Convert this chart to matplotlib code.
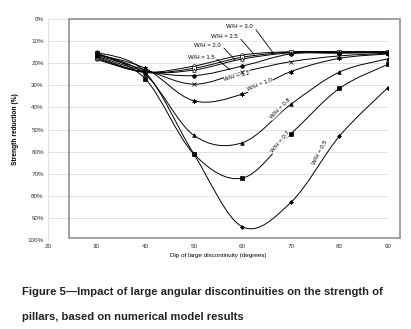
import numpy as np
import matplotlib
matplotlib.use("Agg")
import matplotlib.pyplot as plt
from matplotlib.path import Path
from matplotlib.patches import PathPatch, Rectangle
from matplotlib import font_manager

plt.rcParams['font.family'] = ['Liberation Sans', 'DejaVu Sans']

dip = [30, 40, 50, 60, 70, 80, 90]
wh_labels = ["3.0", "2.5", "2.0", "1.5", "1.2", "1.0", "0.8", "0.7", "0.5"]
red_30 = [18.3, 24.0, 21.3, 16.3, 14.8, 14.8, 14.8]
red_25 = [17.8, 24.2, 22.3, 17.3, 15.0, 14.8, 14.9]
red_20 = [17.3, 24.0, 23.1, 18.1, 15.3, 15.2, 15.0]
red_15 = [16.8, 23.5, 25.6, 21.3, 15.8, 15.5, 15.2]
red_12 = [16.3, 23.0, 29.5, 24.0, 19.3, 16.7, 15.5]
red_10 = [16.0, 22.3, 37.0, 34.0, 23.8, 17.8, 15.8]
red_08 = [15.7, 25.0, 52.6, 56.0, 38.6, 24.0, 18.0]
red_07 = [15.3, 27.0, 61.0, 72.0, 52.0, 31.4, 20.5]
red_05 = [15.0, 24.0, 61.0, 94.0, 83.0, 53.0, 31.0]
series = [red_30, red_25, red_20, red_15, red_12, red_10, red_08, red_07, red_05]
markers = ['o', 's', '^', 'o', 'x', (6, 2, 0), '^', 's', 'D']
mfcs = ['white', 'white', 'white', 'black', 'black', 'black', 'black', 'black', 'black']
msizes = [2.6, 2.5, 2.6, 2.6, 2.8, 3.2, 2.6, 2.7, 2.0]

fig = plt.figure(figsize=(4.11, 3.29), dpi=100)
ax = fig.add_axes([48/411, 1-240/329, 340/411, 221/329])
ax.set_xlim(20, 90)
ax.set_ylim(100, 0)

def smooth_path(x, y):
    x = np.asarray(x, float); y = np.asarray(y, float)
    P = np.column_stack([x, y])
    n = len(P)
    verts = [P[0]]
    codes = [Path.MOVETO]
    for i in range(n-1):
        p0 = P[i-1] if i > 0 else P[i]
        p3 = P[i+2] if i+2 < n else P[i+1]
        c1 = P[i] + (P[i+1]-p0)/6.0
        c2 = P[i+1] - (p3-P[i])/6.0
        verts += [c1, c2, P[i+1]]
        codes += [Path.CURVE4]*3
    return Path(verts, codes)

for vals, m, fc, ms in zip(series, markers, mfcs, msizes):
    ax.add_patch(PathPatch(smooth_path(dip, vals), fill=False, lw=0.7, ec='black', zorder=3))
    ax.plot(dip, vals, ls='none', marker=m, ms=ms, mfc=fc, mec='black', mew=0.5, zorder=4)

ax.set_yticks(np.arange(0, 101, 10))
ax.set_yticklabels([f"{v}%" for v in range(0, 101, 10)], fontsize=4.5, color='#333333')
ax.set_xticks(np.arange(20, 91, 10))
ax.set_xticklabels([str(v) for v in range(20, 91, 10)], fontsize=4.5, color='#333333')
ax.tick_params(length=0, pad=3)
ax.grid(axis='y', color='#dcdcdc', lw=0.6)
ax.set_axisbelow(True)
for s in ['top', 'right', 'bottom']:
    ax.spines[s].set_visible(False)
ax.spines['left'].set_color('#dddddd')
ax.spines['left'].set_linewidth(0.6)
ax.set_xlabel("Dip of large discontinuity (degrees)", fontsize=4.5, labelpad=3)
ax.set_ylabel("Strength reduction (%)", fontsize=4.8, fontweight='bold', labelpad=6)

fig.patches.append(Rectangle((69/411, 1-238/329), 331/411, 219/329, transform=fig.transFigure,
                             fill=False, ec='#9a9a9a', lw=1.3, zorder=0))

lab_kw = dict(fontsize=4.3, color='black', ha='center', va='center')
ann = [("W/H = 3.0", (59.5, 3.2), (66.3, 15.2)),
       ("W/H = 2.5", (56.4, 7.7), (62.4, 16.0)),
       ("W/H = 2.0", (52.9, 11.8), (58.5, 18.5)),
       ("W/H = 1.5", (51.5, 17.2), (57.5, 23.0))]
for txt, xyt, xy in ann:
    ax.annotate(txt, xy=xy, xytext=xyt, arrowprops=dict(arrowstyle='-', lw=0.6, color='black',
                shrinkA=0, shrinkB=0, relpos=(1, 0.5)), **lab_kw)

rot = [("W/H = 1.2", 58.9, 25.8, 14),
       ("W/H = 1.0", 63.6, 29.9, 22),
       ("W/H = 0.8", 67.8, 40.7, 45),
       ("W/H = 0.7", 67.8, 55.7, 50),
       ("W/H = 0.5", 76.0, 60.6, 62)]
for txt, x, y, r in rot:
    ax.text(x, y, txt, rotation=r, rotation_mode='anchor', **lab_kw,
            bbox=dict(fc='white', ec='none', pad=0.2))

names = {f.name for f in font_manager.fontManager.ttflist}
tfam = ['Liberation Sans Narrow'] if 'Liberation Sans Narrow' in names else ['Liberation Sans']
tsize = 9.6 if 'Liberation Sans Narrow' in names else 8.1
title_kw = dict(fontsize=tsize, fontweight='bold', va='center', ha='left', color='#222222',
                family=tfam + ['DejaVu Sans'])
fig.text(22/411, 1-292/329, "Figure 5\u2014Impact of large angular discontinuities on the strength of", **title_kw)
fig.text(22/411, 1-317/329, "pillars, based on numerical model results", **title_kw)

fig.savefig("out.png", dpi=100)
